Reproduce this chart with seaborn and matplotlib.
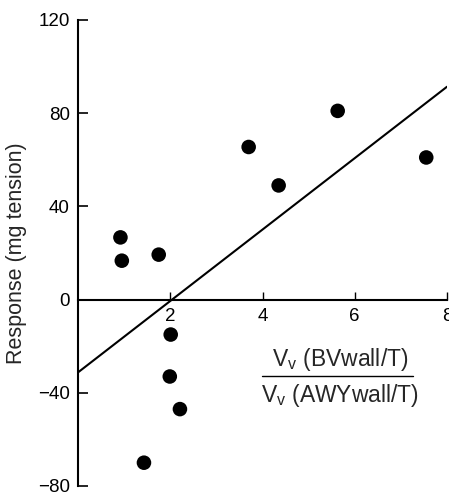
import matplotlib
matplotlib.use("Agg")
import matplotlib.pyplot as plt
import seaborn as sns
import pandas as pd

# Data
ratio = [0.92, 0.95, 1.75, 2.01, 1.99, 2.21, 1.43, 3.70, 4.35, 5.63, 7.55]
response = [26.7, 16.7, 19.3, -15, -33, -47, -70, 65.5, 49, 81, 61]
xticks = [2, 4, 6, 8]
yticks = [-80, -40, 0, 40, 80, 120]

df = pd.DataFrame({"ratio": ratio, "response": response})

sns.set_style("white")
plt.rcParams["font.family"] = ["Liberation Sans", "DejaVu Sans"]
plt.rcParams["mathtext.fontset"] = "custom"
plt.rcParams["mathtext.rm"] = "Liberation Sans"

fig = plt.figure(figsize=(4.49, 4.96), dpi=100)
ax = fig.add_axes([78 / 449, 1 - 486 / 496, (447 - 78) / 449, (486 - 20) / 496])
ax.set_xlim(0, 8)
ax.set_ylim(-80, 120)

sns.regplot(data=df, x="ratio", y="response", ax=ax, ci=None, truncate=False,
            scatter_kws=dict(s=110, color="black", edgecolor="none", alpha=1),
            line_kws=dict(color="black", lw=1.5))
ax.set_xlim(0, 8)
ax.set_ylim(-80, 120)

for s in ["top", "right"]:
    ax.spines[s].set_visible(False)
ax.spines["left"].set_linewidth(1.5)
ax.spines["left"].set_color("black")
ax.spines["bottom"].set_position(("data", 0))
ax.spines["bottom"].set_linewidth(1.5)
ax.spines["bottom"].set_color("black")

ax.set_xticks(xticks)
ax.set_xticklabels([str(v) for v in xticks])
ax.set_yticks(yticks)
ax.set_yticklabels([("\u2212" + str(-v)) if v < 0 else str(v) for v in yticks])
ax.tick_params(axis="y", direction="in", length=7, width=1.2, labelsize=13.5,
               pad=6, left=True, colors="black")
ax.tick_params(axis="x", direction="in", length=6, width=1.0, labelsize=13.5,
               pad=6, bottom=True, colors="black")

ax.set_xlabel("")
ax.set_ylabel("Response (mg tension)", fontsize=15.5, labelpad=8)

# fraction-style x label
cx = 5.68
ax.text(cx, -25.5, r"V$_\mathregular{v}$ (BVwall/T)", ha="center", va="center", fontsize=16.5)
ax.plot([3.99, 7.26], [-33, -33], color="black", lw=1.0, clip_on=False)
ax.text(cx, -41, r"V$_\mathregular{v}$ (AWYwall/T)", ha="center", va="center", fontsize=16.5)

fig.savefig("out.png", dpi=100)
